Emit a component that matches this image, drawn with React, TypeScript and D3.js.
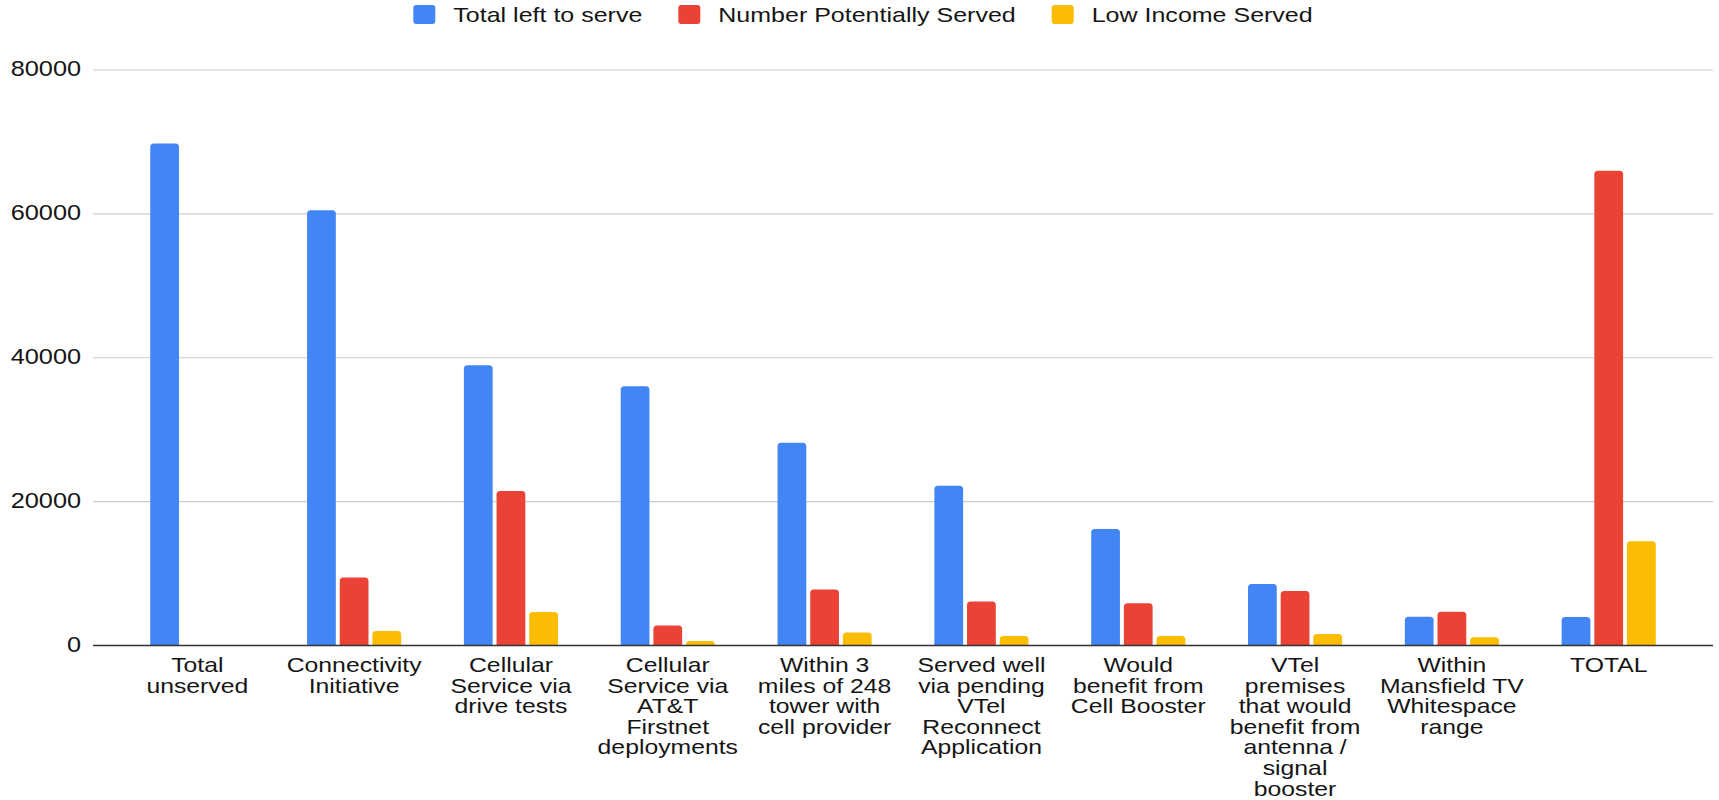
import React, { useEffect, useRef } from 'react';
import * as d3 from 'd3';

const categories = [
  'Total unserved',
  'Connectivity Initiative',
  'Cellular Service via drive tests',
  'Cellular Service via AT&T Firstnet deployments',
  'Within 3 miles of 248 tower with cell provider',
  'Served well via pending VTel Reconnect Application',
  'Would benefit from Cell Booster',
  'VTel premises that would benefit from antenna / signal booster',
  'Within Mansfield TV Whitespace range',
  'TOTAL',
];

const categoryLines = [
  ['Total', 'unserved'],
  ['Connectivity', 'Initiative'],
  ['Cellular', 'Service via', 'drive tests'],
  ['Cellular', 'Service via', 'AT&T', 'Firstnet', 'deployments'],
  ['Within 3', 'miles of 248', 'tower with', 'cell provider'],
  ['Served well', 'via pending', 'VTel', 'Reconnect', 'Application'],
  ['Would', 'benefit from', 'Cell Booster'],
  ['VTel', 'premises', 'that would', 'benefit from', 'antenna /', 'signal', 'booster'],
  ['Within', 'Mansfield TV', 'Whitespace', 'range'],
  ['TOTAL'],
];

const seriesNames = ['Total left to serve', 'Number Potentially Served', 'Low Income Served'];
const seriesColors = ['#4285F4', '#EA4335', '#FBBC04'];

const totalLeftToServe = [69800, 60500, 38950, 36050, 28200, 22200, 16200, 8550, 4000, 3950];
const numberPotentiallyServed = [0, 9450, 21480, 2780, 7790, 6120, 5880, 7580, 4700, 66000];
const lowIncomeServed = [0, 2020, 4660, 630, 1810, 1330, 1330, 1600, 1140, 14490];

const yTicks = [0, 20000, 40000, 60000, 80000];

const FONT = "Arial, 'Liberation Sans', Helvetica, sans-serif";
const TEXT_COLOR = '#151515';

function roundedTop(x: number, y: number, w: number, h: number, r: number) {
  if (h <= 0) return '';
  const rr = Math.min(r, h, w / 2);
  return `M${x},${y + h}V${y + rr}Q${x},${y} ${x + rr},${y}H${x + w - rr}Q${x + w},${y} ${x + w},${y + rr}V${y + h}Z`;
}

export default function App() {
  const ref = useRef<SVGSVGElement | null>(null);

  useEffect(() => {
    const W = 1719;
    const left = 93;
    const right = 1713;
    const top = 70;
    const bottom = 645.5;
    const svg = d3.select(ref.current);
    svg.selectAll('*').remove();

    svg.append('rect').attr('x', 0).attr('y', 0).attr('width', W).attr('height', 800).attr('fill', '#ffffff');

    const series = [totalLeftToServe, numberPotentiallyServed, lowIncomeServed];

    const x0 = d3.scaleBand<string>().domain(categories).range([left, right]).paddingInner(0.4).paddingOuter(0.365);
    const x1 = d3.scaleBand<string>().domain(seriesNames).range([0, x0.bandwidth()]).paddingInner(0.12);
    const y = d3.scaleLinear().domain([0, 80000]).range([bottom, top]);

    // gridlines
    svg.append('g')
      .selectAll('line')
      .data(yTicks.filter((t) => t !== 0))
      .join('line')
      .attr('x1', left)
      .attr('x2', right)
      .attr('y1', (d) => y(d))
      .attr('y2', (d) => y(d))
      .attr('stroke', '#cccccc')
      .attr('stroke-width', 1.2);

    // y tick labels
    svg.append('g')
      .selectAll('text')
      .data(yTicks)
      .join('text')
      .attr('transform', (d) => `translate(81,${y(d) - 1}) scale(1.15,1)`)
      .attr('text-anchor', 'end')
      .attr('dominant-baseline', 'central')
      .attr('font-family', FONT)
      .attr('font-size', 22)
      .attr('fill', TEXT_COLOR)
      .text((d) => String(d));

    // bars
    const barsG = svg.append('g');
    categories.forEach((cat, ci) => {
      seriesNames.forEach((s, si) => {
        const v = series[si][ci];
        const bx = (x0(cat) ?? 0) + (x1(s) ?? 0);
        const by = y(v);
        const h = y(0) - by;
        if (h > 0) {
          barsG.append('path')
            .attr('d', roundedTop(bx, by, x1.bandwidth(), h, 3.5))
            .attr('fill', seriesColors[si]);
        }
      });
    });

    // baseline
    svg.append('line')
      .attr('x1', left)
      .attr('x2', right)
      .attr('y1', y(0))
      .attr('y2', y(0))
      .attr('stroke', '#333333')
      .attr('stroke-width', 1.5);

    // category labels
    const labG = svg.append('g');
    categories.forEach((cat, ci) => {
      const cx = (x0(cat) ?? 0) + x0.bandwidth() / 2;
      categoryLines[ci].forEach((line, li) => {
        labG.append('text')
          .attr('transform', `translate(${cx},${672 + li * 20.6}) scale(1.22,1)`)
          .attr('text-anchor', 'middle')
          .attr('font-family', FONT)
          .attr('font-size', 20.3)
          .attr('fill', TEXT_COLOR)
          .text(line);
      });
    });

    // legend
    const legG = svg.append('g');
    const sqW = 22;
    const sqH = 19;
    const gapText = 18;
    const gapItem = 36;
    const sx = 1.22;
    const items = seriesNames.map((name, i) => {
      const g = legG.append('g');
      g.append('rect')
        .attr('x', 0)
        .attr('y', 5)
        .attr('width', sqW)
        .attr('height', sqH)
        .attr('rx', 3)
        .attr('fill', seriesColors[i]);
      const t = g.append('text')
        .attr('transform', `translate(${sqW + gapText},15) scale(${sx},1)`)
        .attr('dominant-baseline', 'central')
        .attr('font-family', FONT)
        .attr('font-size', 20.5)
        .attr('fill', TEXT_COLOR)
        .text(name);
      const node = t.node() as SVGTextElement;
      const tw = (node ? node.getComputedTextLength() : name.length * 10) * sx;
      return { g, w: sqW + gapText + tw };
    });
    const totalW = d3.sum(items, (d) => d.w) + gapItem * (items.length - 1);
    let cur = 863 - totalW / 2;
    items.forEach((it) => {
      it.g.attr('transform', `translate(${cur},0)`);
      cur += it.w + gapItem;
    });
  }, []);

  return (
    <svg
      ref={ref}
      width={1719}
      height={800}
      style={{ position: 'absolute', left: 0, top: 0, display: 'block' }}
    />
  );
}
